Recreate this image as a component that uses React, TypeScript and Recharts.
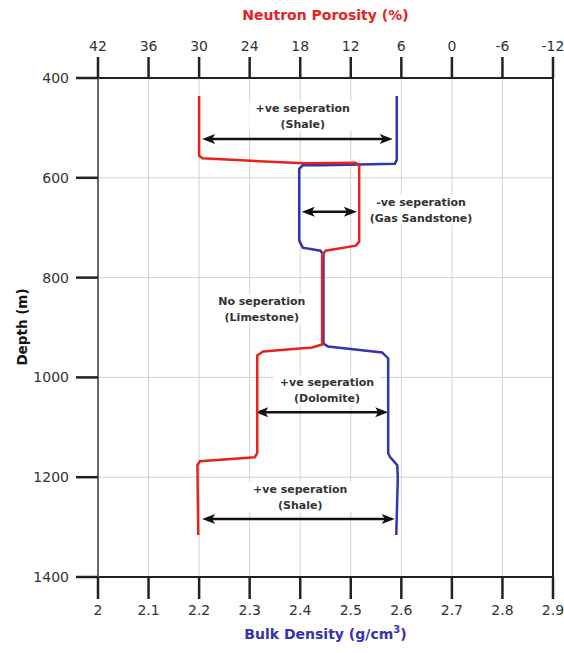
import React from 'react';
import {
  ScatterChart,
  Scatter,
  XAxis,
  YAxis,
  CartesianGrid,
  ReferenceLine,
  ReferenceDot,
} from 'recharts';

// ---- Axis ticks ----
const densityTicks = [2, 2.1, 2.2, 2.3, 2.4, 2.5, 2.6, 2.7, 2.8, 2.9];
const porosityTicks = [42, 36, 30, 24, 18, 12, 6, 0, -6, -12];
const depthTicks = [400, 600, 800, 1000, 1200, 1400];

// ---- Neutron porosity log (%), vs depth (m) ----
const neutronPorosity = [
  { x: 30.0, y: 436 },
  { x: 30.0, y: 556 },
  { x: 29.6, y: 561 },
  { x: 17.6, y: 571 },
  { x: 11.4, y: 570 },
  { x: 11.0, y: 576 },
  { x: 11.0, y: 728 },
  { x: 11.4, y: 736 },
  { x: 15.0, y: 746 },
  { x: 15.4, y: 756 },
  { x: 15.4, y: 934 },
  { x: 16.6, y: 940 },
  { x: 22.4, y: 948 },
  { x: 23.1, y: 956 },
  { x: 23.1, y: 1152 },
  { x: 23.4, y: 1160 },
  { x: 29.9, y: 1168 },
  { x: 30.2, y: 1176 },
  { x: 30.1, y: 1316 },
];

// ---- Bulk density log (g/cm3), vs depth (m) ----
const bulkDensity = [
  { x: 2.591, y: 436 },
  { x: 2.591, y: 564 },
  { x: 2.587, y: 572 },
  { x: 2.445, y: 575 },
  { x: 2.405, y: 575 },
  { x: 2.398, y: 582 },
  { x: 2.398, y: 726 },
  { x: 2.405, y: 740 },
  { x: 2.44, y: 746 },
  { x: 2.446, y: 754 },
  { x: 2.446, y: 932 },
  { x: 2.455, y: 938 },
  { x: 2.562, y: 950 },
  { x: 2.574, y: 962 },
  { x: 2.574, y: 1152 },
  { x: 2.578, y: 1160 },
  { x: 2.592, y: 1176 },
  { x: 2.593, y: 1200 },
  { x: 2.59, y: 1316 },
];

// ---- Separation arrows (density units, depth) ----
const arrows = [
  { from: 2.206, to: 2.583, depth: 522 },
  { from: 2.403, to: 2.512, depth: 668 },
  { from: 2.311, to: 2.574, depth: 1070 },
  { from: 2.206, to: 2.587, depth: 1284 },
];

// ---- Annotation labels ----
const annotations = [
  { x: 2.405, y: 476, line1: '+ve seperation', line2: '(Shale)' },
  { x: 2.639, y: 664, line1: '-ve seperation', line2: '(Gas Sandstone)' },
  { x: 2.324, y: 862, line1: 'No seperation', line2: '(Limestone)' },
  { x: 2.453, y: 1026, line1: '+ve seperation', line2: '(Dolomite)' },
  { x: 2.4, y: 1240, line1: '+ve seperation', line2: '(Shale)' },
];

const RED = '#e8231f';
const BLUE = '#3434b0';
const AXIS = '#222';
const FONT = '"DejaVu Sans", sans-serif';

const ArrowShape = (props: any) => {
  const { x1, y1, x2, y2 } = props;
  const left = Math.min(x1, x2);
  const right = Math.max(x1, x2);
  const y = y1;
  const L = 13;
  const W = 5;
  const back = 3;
  return (
    <g>
      <line x1={left + 6} y1={y} x2={right - 6} y2={y2} stroke="#111" strokeWidth={2.5} />
      <path
        d={`M ${left} ${y} L ${left + L} ${y - W} L ${left + L - back} ${y} L ${left + L} ${y + W} Z`}
        fill="#111"
      />
      <path
        d={`M ${right} ${y} L ${right - L} ${y - W} L ${right - L + back} ${y} L ${right - L} ${y + W} Z`}
        fill="#111"
      />
    </g>
  );
};

const makeLabel = (a: { line1: string; line2: string }) => (props: any) => {
  const { cx, cy } = props;
  const w = Math.max(a.line1.length, a.line2.length) * 7.2 + 6;
  return (
    <g>
      <rect x={cx - w / 2} y={cy - 15} width={w} height={30} fill="#fff" />
      <text
        x={cx}
        y={cy - 4}
        textAnchor="middle"
        fontFamily={FONT}
        fontWeight="bold"
        fontSize={11}
        fill="#333"
      >
        {a.line1}
      </text>
      <text
        x={cx}
        y={cy + 12}
        textAnchor="middle"
        fontFamily={FONT}
        fontWeight="bold"
        fontSize={11}
        fill="#333"
      >
        {a.line2}
      </text>
    </g>
  );
};

const noDot = () => <g />;

const tickStyle = { fill: '#333', fontSize: 14, fontFamily: FONT };

export default function App() {
  return (
    <div style={{ position: 'absolute', left: 0, top: 0, width: 564, height: 653, background: '#fff' }}>
      <ScatterChart
        width={564}
        height={653}
        margin={{ top: 0, right: 11, bottom: 0, left: 0 }}
      >
        <CartesianGrid
          xAxisId="density"
          yAxisId="depth"
          stroke="#d2d2d2"
          strokeWidth={1}
          horizontal
          vertical
        />
        <XAxis
          xAxisId="density"
          orientation="bottom"
          type="number"
          dataKey="x"
          domain={[2, 2.9]}
          ticks={densityTicks}
          height={76}
          tickSize={22}
          tickMargin={6}
          interval={0}
          allowDataOverflow
          axisLine={{ stroke: AXIS, strokeWidth: 2 }}
          tickLine={{ stroke: AXIS, strokeWidth: 2.5 }}
          tick={tickStyle}
        />
        <XAxis
          xAxisId="porosity"
          orientation="top"
          type="number"
          dataKey="x"
          domain={[-12, 42]}
          reversed
          ticks={porosityTicks}
          height={78}
          tickSize={21}
          tickMargin={6}
          interval={0}
          allowDataOverflow
          axisLine={{ stroke: AXIS, strokeWidth: 2 }}
          tickLine={{ stroke: AXIS, strokeWidth: 2.5 }}
          tick={tickStyle}
        />
        <YAxis
          yAxisId="depth"
          type="number"
          dataKey="y"
          domain={[400, 1400]}
          reversed
          ticks={depthTicks}
          width={98}
          tickSize={22}
          tickMargin={7}
          interval={0}
          allowDataOverflow
          axisLine={{ stroke: '#666', strokeWidth: 2 }}
          tickLine={{ stroke: AXIS, strokeWidth: 2.5 }}
          tick={tickStyle}
        />
        <ReferenceLine
          xAxisId="density"
          yAxisId="depth"
          x={2.9}
          stroke={AXIS}
          strokeWidth={2}
        />
        {annotations.map((a, i) => (
          <ReferenceDot
            key={`lab-${i}`}
            xAxisId="density"
            yAxisId="depth"
            x={a.x}
            y={a.y}
            r={0}
            shape={makeLabel(a)}
          />
        ))}
        {arrows.map((a, i) => (
          <ReferenceLine
            key={`arr-${i}`}
            xAxisId="density"
            yAxisId="depth"
            segment={[
              { x: a.from, y: a.depth },
              { x: a.to, y: a.depth },
            ]}
            shape={ArrowShape}
          />
        ))}
        <Scatter
          name="Bulk Density"
          data={bulkDensity}
          xAxisId="density"
          yAxisId="depth"
          line={{ stroke: BLUE, strokeWidth: 2.5 }}
          shape={noDot}
          isAnimationActive={false}
        />
        <Scatter
          name="Neutron Porosity"
          data={neutronPorosity}
          xAxisId="porosity"
          yAxisId="depth"
          line={{ stroke: RED, strokeWidth: 2.5 }}
          shape={noDot}
          isAnimationActive={false}
        />
      </ScatterChart>
      <div
        style={{
          position: 'absolute',
          left: 98,
          width: 455,
          top: 7,
          textAlign: 'center',
          color: RED,
          fontFamily: FONT,
          fontWeight: 'bold',
          fontSize: 14,
        }}
      >
        Neutron Porosity (%)
      </div>
      <div
        style={{
          position: 'absolute',
          left: 98,
          width: 455,
          top: 624,
          textAlign: 'center',
          color: BLUE,
          fontFamily: FONT,
          fontWeight: 'bold',
          fontSize: 14,
        }}
      >
        Bulk Density (g/cm<sup style={{ fontSize: 10 }}>3</sup>)
      </div>
      <div
        style={{
          position: 'absolute',
          left: 22,
          top: 327,
          transform: 'translate(-50%, -50%) rotate(-90deg)',
          whiteSpace: 'nowrap',
          color: '#111',
          fontFamily: FONT,
          fontWeight: 'bold',
          fontSize: 13.5,
        }}
      >
        Depth (m)
      </div>
    </div>
  );
}
